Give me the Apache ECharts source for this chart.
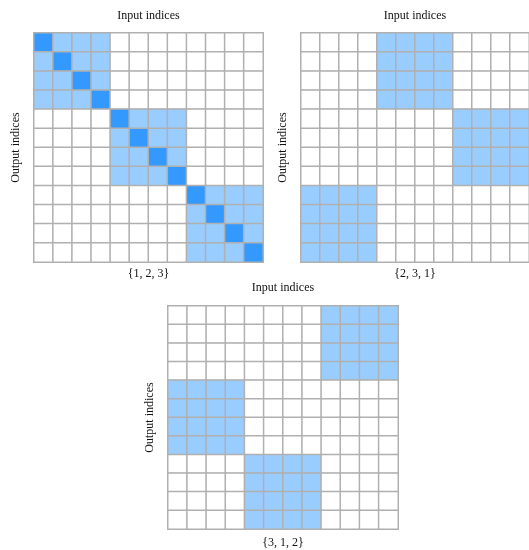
<!DOCTYPE html>
<html>
<head>
<meta charset="utf-8">
<script src="https://cdn.jsdelivr.net/npm/echarts@6/dist/echarts.min.js"></script>
<style>html,body{margin:0;padding:0;background:#fff}#c{width:529px;height:550px}</style>
</head>
<body>
<div id="c"></div>
<script>
// 0 = empty, 1 = light block, 2 = diagonal (dark)
var indices = ['0','1','2','3','4','5','6','7','8','9','10','11'];
var matrix123 = [
  '211100000000',
  '121100000000',
  '112100000000',
  '111200000000',
  '000021110000',
  '000012110000',
  '000011210000',
  '000011120000',
  '000000002111',
  '000000001211',
  '000000001121',
  '000000001112'
];
var matrix231 = [
  '000011110000',
  '000011110000',
  '000011110000',
  '000011110000',
  '000000001111',
  '000000001111',
  '000000001111',
  '000000001111',
  '111100000000',
  '111100000000',
  '111100000000',
  '111100000000'
];
var matrix312 = [
  '000000001111',
  '000000001111',
  '000000001111',
  '000000001111',
  '111100000000',
  '111100000000',
  '111100000000',
  '111100000000',
  '000011110000',
  '000011110000',
  '000011110000',
  '000011110000'
];
var labels = ['{1, 2, 3}', '{2, 3, 1}', '{3, 1, 2}'];
var topTitle = 'Input indices';
var sideTitle = 'Output indices';

function toData(m) {
  var d = [];
  for (var r = 0; r < m.length; r++) {
    for (var c = 0; c < m[r].length; c++) {
      d.push([c, r, Number(m[r].charAt(c))]);
    }
  }
  return d;
}

var font = 'Liberation Serif';
var grids = [
  {left: 34, top: 33, width: 229, height: 229},
  {left: 301, top: 33, width: 229, height: 229},
  {left: 168, top: 306, width: 230, height: 230}
];
var topGaps = [11, 11, 12];
var bottomGaps = [6, 6, 8];
var matrices = [matrix123, matrix231, matrix312];
var xAxes = [], yAxes = [], series = [];
var ts = {fontFamily: font, fontSize: 12, color: '#111'};
for (var i = 0; i < 3; i++) {
  xAxes.push({
    type: 'category', data: indices, gridIndex: i, position: 'top',
    name: topTitle, nameLocation: 'middle', nameGap: topGaps[i],
    nameTextStyle: ts,
    axisLine: {show: false}, axisTick: {show: false}, axisLabel: {show: false}, splitLine: {show: false}
  });
  xAxes.push({
    type: 'category', data: indices, gridIndex: i, position: 'bottom',
    name: labels[i], nameLocation: 'middle', nameGap: bottomGaps[i],
    nameTextStyle: ts,
    axisLine: {show: false}, axisTick: {show: false}, axisLabel: {show: false}, splitLine: {show: false}
  });
  yAxes.push({
    type: 'category', data: indices, gridIndex: i, inverse: true,
    name: sideTitle, nameLocation: 'middle', nameGap: 12, nameRotate: 90,
    nameTextStyle: ts,
    axisLine: {show: false}, axisTick: {show: false}, axisLabel: {show: false}, splitLine: {show: false}
  });
  series.push({
    type: 'heatmap', xAxisIndex: i * 2, yAxisIndex: i,
    data: toData(matrices[i]),
    itemStyle: {borderColor: '#b0b0b0', borderWidth: 1.5},
    emphasis: {disabled: true},
    animation: false
  });
}

var chart = echarts.init(document.getElementById('c'));
chart.setOption({
  animation: false,
  grid: grids,
  xAxis: xAxes,
  yAxis: yAxes,
  visualMap: {
    type: 'piecewise', show: false, seriesIndex: [0, 1, 2], dimension: 2,
    pieces: [
      {value: 0, color: '#ffffff'},
      {value: 1, color: '#99ccff'},
      {value: 2, color: '#3399ff'}
    ]
  },
  series: series
});
</script>
</body>
</html>
